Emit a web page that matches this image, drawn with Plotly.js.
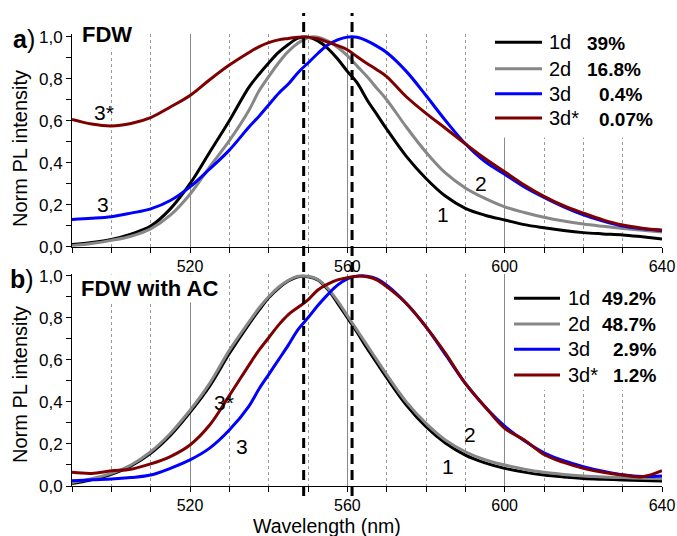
<!DOCTYPE html>
<html>
<head>
<meta charset="utf-8">
<script src="https://cdn.plot.ly/plotly-3.0.1.min.js"></script>
<style>html,body{margin:0;padding:0;background:#fff;}#chart{width:677px;height:536px;}</style>
</head>
<body>
<div id="chart"></div>
<script>
// Wavelength grid (nm)
const wavelength = [490,495,500,505,510,515,520,525,530,535,537.5,540,542.5,545,547.5,550,552.5,555,557.5,560,562.5,565,567.5,570,575,580,585,590,595,600,605,610,615,620,625,630,635,640];

// Panel a) FDW
const a_1d = [0.010,0.020,0.035,0.060,0.098,0.180,0.300,0.450,0.600,0.760,0.820,0.875,0.925,0.963,0.993,0.997,0.980,0.945,0.895,0.835,0.780,0.700,0.630,0.560,0.430,0.325,0.240,0.183,0.150,0.127,0.105,0.090,0.077,0.067,0.061,0.056,0.047,0.037];
const a_2d = [0.005,0.015,0.030,0.050,0.085,0.150,0.250,0.380,0.505,0.650,0.740,0.810,0.875,0.930,0.970,0.995,0.998,0.980,0.950,0.910,0.860,0.810,0.755,0.700,0.570,0.450,0.350,0.280,0.230,0.190,0.163,0.140,0.122,0.108,0.097,0.087,0.078,0.070];
const a_3d = [0.130,0.135,0.143,0.160,0.180,0.220,0.285,0.370,0.460,0.570,0.620,0.675,0.730,0.775,0.830,0.875,0.920,0.960,0.985,0.998,0.997,0.980,0.955,0.925,0.835,0.720,0.600,0.490,0.405,0.345,0.285,0.235,0.190,0.152,0.122,0.098,0.085,0.076];
const a_3ds = [0.606,0.584,0.575,0.587,0.615,0.665,0.720,0.795,0.865,0.925,0.952,0.972,0.985,0.992,0.998,0.998,0.990,0.975,0.958,0.938,0.905,0.873,0.843,0.810,0.714,0.635,0.563,0.490,0.420,0.357,0.294,0.240,0.195,0.160,0.128,0.103,0.088,0.079];

// Panel b) FDW with AC
const b_1d = [0.012,0.030,0.055,0.095,0.155,0.240,0.350,0.475,0.630,0.770,0.835,0.895,0.940,0.975,0.995,0.995,0.980,0.935,0.870,0.800,0.730,0.655,0.585,0.515,0.385,0.282,0.203,0.147,0.110,0.084,0.066,0.052,0.043,0.036,0.032,0.029,0.026,0.024];
const b_2d = [0.016,0.035,0.060,0.100,0.163,0.250,0.360,0.488,0.645,0.780,0.845,0.900,0.945,0.978,0.997,0.997,0.982,0.940,0.880,0.810,0.740,0.670,0.600,0.530,0.400,0.298,0.218,0.163,0.125,0.100,0.080,0.065,0.055,0.048,0.043,0.040,0.037,0.035];
const b_3d = [0.025,0.030,0.033,0.040,0.052,0.084,0.124,0.180,0.266,0.380,0.460,0.530,0.600,0.670,0.745,0.800,0.858,0.910,0.955,0.985,0.998,0.998,0.985,0.955,0.868,0.757,0.623,0.488,0.377,0.285,0.215,0.158,0.120,0.092,0.070,0.053,0.045,0.048];
const b_3ds = [0.065,0.060,0.072,0.080,0.105,0.140,0.195,0.290,0.430,0.575,0.645,0.705,0.765,0.815,0.850,0.885,0.932,0.960,0.980,0.990,0.998,0.995,0.980,0.948,0.868,0.757,0.630,0.488,0.377,0.274,0.219,0.150,0.112,0.084,0.065,0.052,0.044,0.073];

const seriesNames = ['1d','2d','3d','3d*'];
const seriesColors = ['#000000','#878787','#0000ff','#7f0000'];
const pctA = ['39%','16.8%','0.4%','0.07%'];
const pctB = ['49.2%','48.7%','2.9%','1.2%'];
const peakLines = [548.9, 561.2];
const xTickLabels = [520,560,600,640];

const FONT = 'Liberation Sans, Arial, sans-serif';

function tr(y, i, xa, ya) {
  return {x: wavelength, y: y, type: 'scatter', mode: 'lines', xaxis: xa, yaxis: ya,
    line: {color: seriesColors[i], width: 3, shape: 'spline', smoothing: 1.0},
    showlegend: false, hoverinfo: 'skip', name: seriesNames[i]};
}
const data = [
  tr(a_1d,0,'x','y'), tr(a_2d,1,'x','y'), tr(a_3d,2,'x','y'), tr(a_3ds,3,'x','y'),
  tr(b_1d,0,'x2','y2'), tr(b_2d,1,'x2','y2'), tr(b_3d,2,'x2','y2'), tr(b_3ds,3,'x2','y2')
];

function xax(anchor) {
  return {domain:[0,1], anchor: anchor, range:[490,640], showline:true, linecolor:'#000', linewidth:1,
    ticks:'outside', ticklen:5, tickwidth:1, tickcolor:'#000', tickmode:'array', tickvals: xTickLabels,
    ticktext: xTickLabels.map(String),
    showgrid:true, gridcolor:'#8a8a8a', gridwidth:1, zeroline:false,
    tickfont:{family:FONT, size:16, color:'#000'},
    minor:{tickmode:'array', tickvals:[490,500,510,530,540,550,570,580,590,610,620,630], ticks:'outside', ticklen:5, tickcolor:'#000', tickwidth:1,
      showgrid:true, gridcolor:'#9a9a9a', griddash:'dot', gridwidth:1}};
}
function yax(domain, top, anchor) {
  return {domain: domain, anchor: anchor, range:[0, top], showline:true, linecolor:'#000', linewidth:1,
    ticks:'outside', ticklen:5, tickwidth:1, tickcolor:'#000', tickmode:'linear', tick0:0, dtick:0.2,
    tickformat:'.1f', showgrid:false, zeroline:false,
    tickfont:{family:FONT, size:17, color:'#000'},
    minor:{dtick:0.1, ticks:'outside', ticklen:5, tickcolor:'#000', showgrid:false}};
}

const W = 590, L = 72, H = 452, B = 486;
const px = v => (v - L) / W;
const py = v => (B - v) / H;

const shapes = [];
const annotations = [];

// white boxes behind legends, and hide grid line on the right edge
shapes.push({type:'rect', xref:'x', yref:'y', x0:597.5, x1:641, y0:0.52, y1:1.02, fillcolor:'#fff', line:{width:0}, layer:'between'});
shapes.push({type:'rect', xref:'x2', yref:'y2', x0:601, x1:641, y0:0.456, y1:1.02, fillcolor:'#fff', line:{width:0}, layer:'between'});
shapes.push({type:'rect', xref:'x', yref:'y', x0:639.5, x1:641, y0:0, y1:1.02, fillcolor:'#fff', line:{width:0}, layer:'between'});
shapes.push({type:'rect', xref:'x2', yref:'y2', x0:639.5, x1:641, y0:0, y1:1.02, fillcolor:'#fff', line:{width:0}, layer:'between'});

// legends
const rowsA = [42.3, 68.7, 93.7, 118];
const rowsB = [298.3, 324, 349.3, 375];
seriesNames.forEach((n, i) => {
  shapes.push({type:'line', xref:'paper', yref:'paper', x0:px(495), x1:px(542), y0:py(rowsA[i]), y1:py(rowsA[i]), line:{color:seriesColors[i], width:3}, layer:'above'});
  shapes.push({type:'line', xref:'paper', yref:'paper', x0:px(514), x1:px(560), y0:py(rowsB[i]), y1:py(rowsB[i]), line:{color:seriesColors[i], width:3}, layer:'above'});
  annotations.push({xref:'paper', yref:'paper', x:px(547), y:py(rowsA[i]), text:n, showarrow:false, xanchor:'left', yanchor:'middle', font:{family:FONT, size:20, color:'#000'}});
  annotations.push({xref:'paper', yref:'paper', x:px(566), y:py(rowsB[i]), text:n, showarrow:false, xanchor:'left', yanchor:'middle', font:{family:FONT, size:20, color:'#000'}});
  annotations.push({xref:'paper', yref:'paper', x:px(i < 2 ? 585 : 597), y:py(rowsA[i]+1), text:'<b>' + pctA[i] + '</b>', showarrow:false, xanchor:'left', yanchor:'middle', font:{family:FONT, size:19, color:'#000'}});
  annotations.push({xref:'paper', yref:'paper', x:px(658), y:py(rowsB[i]), text:'<b>' + pctB[i] + '</b>', showarrow:false, xanchor:'right', yanchor:'middle', font:{family:FONT, size:19, color:'#000'}});
});

// dashed peak lines across both panels
peakLines.forEach(v => {
  shapes.push({type:'line', xref:'x', yref:'paper', x0:v, x1:v, y0:py(496), y1:py(13), line:{color:'#000', width:3, dash:'10px,6px'}, layer:'above'});
});

// panel labels and titles
annotations.push({xref:'paper', yref:'paper', x:px(11), y:py(39), text:'<b>a</b>)', showarrow:false, xanchor:'left', yanchor:'middle', font:{family:FONT, size:25, color:'#000'}});
annotations.push({xref:'paper', yref:'paper', x:px(8), y:py(279), text:'<b>b</b>)', showarrow:false, xanchor:'left', yanchor:'middle', font:{family:FONT, size:25, color:'#000'}});
annotations.push({xref:'paper', yref:'paper', x:px(80), y:py(35), text:'<b>FDW</b>', showarrow:false, xanchor:'left', yanchor:'middle', bgcolor:'#fff', font:{family:FONT, size:22, color:'#000'}});
annotations.push({xref:'paper', yref:'paper', x:px(79), y:py(288), text:'<b>FDW with AC</b>', showarrow:false, xanchor:'left', yanchor:'middle', bgcolor:'#fff', font:{family:FONT, size:22, color:'#000'}});
annotations.push({xref:'paper', yref:'paper', x:px(20), y:py(149), text:'Norm PL intensity', textangle:-90, showarrow:false, xanchor:'center', yanchor:'middle', font:{family:FONT, size:20, color:'#000'}});
annotations.push({xref:'paper', yref:'paper', x:px(20), y:py(385), text:'Norm PL intensity', textangle:-90, showarrow:false, xanchor:'center', yanchor:'middle', font:{family:FONT, size:20, color:'#000'}});
annotations.push({xref:'paper', yref:'paper', x:px(327), y:py(526), text:'Wavelength (nm)', showarrow:false, xanchor:'center', yanchor:'middle', borderpad:0, font:{family:FONT, size:19.5, color:'#000'}});

// curve labels
const curveLabels = [
  ['3*', 498.1, 0.637, 'x', 'y'], ['3', 497.8, 0.199, 'x', 'y'], ['2', 594.0, 0.301, 'x', 'y'], ['1', 584.3, 0.151, 'x', 'y'],
  ['3*', 528.6, 0.397, 'x2', 'y2'], ['3', 533.1, 0.19, 'x2', 'y2'], ['2', 591.2, 0.243, 'x2', 'y2'], ['1', 585.5, 0.093, 'x2', 'y2']
];
curveLabels.forEach(c => annotations.push({xref:c[3], yref:c[4], x:c[1], y:c[2], text:c[0], showarrow:false, xanchor:'center', yanchor:'middle', font:{family:FONT, size:21, color:'#000'}}));

const layout = {
  width:677, height:536, margin:{l:72, r:15, t:34, b:50},
  paper_bgcolor:'#fff', plot_bgcolor:'#fff', separators:',.', showlegend:false,
  font:{family:FONT, color:'#000'},
  xaxis: xax('y'), xaxis2: xax('y2'),
  yaxis: yax([py(246.7), 1], 1.0129, 'x'),
  yaxis2: yax([0, py(273.5)], 1.0105, 'x2'),
  shapes: shapes, annotations: annotations
};
Plotly.newPlot('chart', data, layout, {staticPlot:true, displayModeBar:false});
</script>
</body>
</html>
